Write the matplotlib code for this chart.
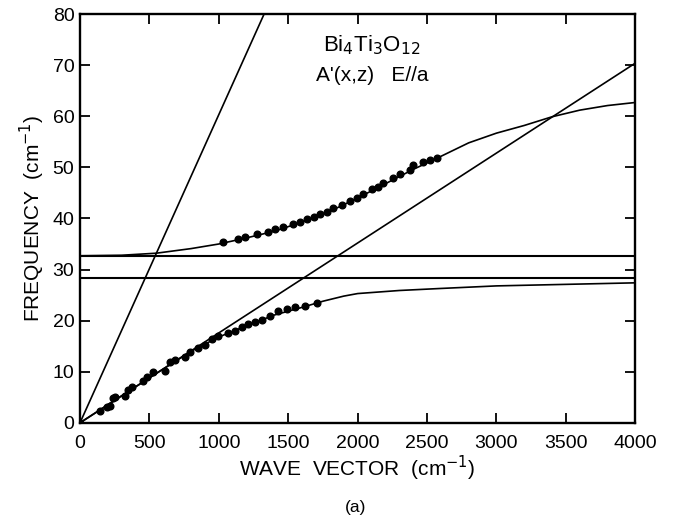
import numpy as np
import matplotlib
matplotlib.use("Agg")
import matplotlib.pyplot as plt

plt.rcParams['font.family'] = ['Liberation Sans', 'DejaVu Sans']

# measured points, lower polariton branch
low_k = [0, 144, 192, 216, 240, 252, 324, 348, 372, 456, 480, 528, 613, 649, 685,
         757, 793, 853, 901, 949, 997, 1069, 1117, 1165, 1213, 1261, 1309, 1369,
         1429, 1489, 1550, 1622, 1706]
low_f = [0, 2.3, 3.1, 3.3, 4.8, 5.0, 5.3, 6.5, 7.1, 8.1, 8.9, 10.0, 10.2, 12.0, 12.2,
         12.9, 13.8, 14.6, 15.3, 16.4, 16.9, 17.5, 18.0, 18.8, 19.4, 19.8, 20.2, 20.9,
         21.9, 22.3, 22.6, 22.9, 23.5]

# measured points, upper polariton branch
up_k = [1028, 1141, 1189, 1273, 1357, 1405, 1465, 1537, 1585, 1634, 1682, 1730, 1777,
        1826, 1886, 1946, 1994, 2042, 2102, 2150, 2186, 2258, 2306, 2378, 2402, 2474,
        2522, 2571]
up_f = [35.3, 36.0, 36.3, 37.0, 37.3, 37.9, 38.3, 38.9, 39.3, 39.9, 40.3, 40.9, 41.3,
        42.0, 42.7, 43.5, 44.1, 44.8, 45.7, 46.2, 47.0, 47.9, 48.7, 49.5, 50.4, 51.0,
        51.5, 51.9]

# calculated dispersion curves
fit_low_k = [0, 500, 800, 1000, 1200, 1400, 1600, 1750, 1900, 2000, 2300, 2600, 3000, 3500, 4000]
fit_low_f = [0, 8.8, 14.0, 16.8, 19.0, 21.1, 22.6, 23.8, 24.8, 25.3, 25.9, 26.3, 26.8, 27.1, 27.4]
fit_up_k = [0, 300, 550, 800, 1000, 1200, 1400, 1600, 1800, 2000, 2200, 2400, 2580, 2800,
            3000, 3200, 3400, 3600, 3800, 4000]
fit_up_f = [32.7, 32.8, 33.2, 34.1, 35.0, 36.2, 37.5, 39.3, 41.4, 44.0, 46.8, 49.6, 51.9, 54.8,
            56.7, 58.2, 59.9, 61.2, 62.1, 62.7]

# light lines and limiting frequencies
steep_k = [0, 1326]
steep_f = [0, 80]
slow_k = [0, 4000]
slow_f = [0, 70.4]
omega_L = 32.7
omega_T = 28.4

fig = plt.figure(figsize=(6.78, 5.22), dpi=100)
ax = fig.add_axes([0.118, 0.19, 0.819, 0.783])

ax.plot(steep_k, steep_f, color='black', lw=1.2)
ax.plot(slow_k, slow_f, color='black', lw=1.2)
ax.axhline(omega_L, color='black', lw=1.5)
ax.axhline(omega_T, color='black', lw=1.5)
ax.plot(fit_low_k, fit_low_f, color='black', lw=1.2)
ax.plot(fit_up_k, fit_up_f, color='black', lw=1.2)
ax.plot(low_k, low_f, 'o', color='black', ms=4.8)
ax.plot(up_k, up_f, 'o', color='black', ms=4.8)

ax.set_xlim(0, 4000)
ax.set_ylim(0, 80)
ax.set_xticks(np.arange(0, 4001, 500))
ax.set_yticks(np.arange(0, 81, 10))
ax.tick_params(direction='in', length=7, width=1.3, top=True, right=True,
               labelsize=14)
ax.tick_params(axis='x', pad=9)
ax.tick_params(axis='y', pad=4)
for s in ax.spines.values():
    s.set_linewidth(1.7)

ax.set_xlabel('WAVE  VECTOR  (cm$^{-1}$)', fontsize=15, labelpad=1)
ax.set_ylabel('FREQUENCY  (cm$^{-1}$)', fontsize=15, labelpad=4)

ax.text(2104, 74, r'Bi$_{4}$Ti$_{3}$O$_{12}$', fontsize=16, ha='center', va='center')
ax.text(2104, 68, "A'(x,z)   E//a", fontsize=15, ha='center', va='center')

fig.text(0.524, 0.027, '(a)', fontsize=12.5, ha='center', va='center')

fig.savefig('out.png', dpi=100)
